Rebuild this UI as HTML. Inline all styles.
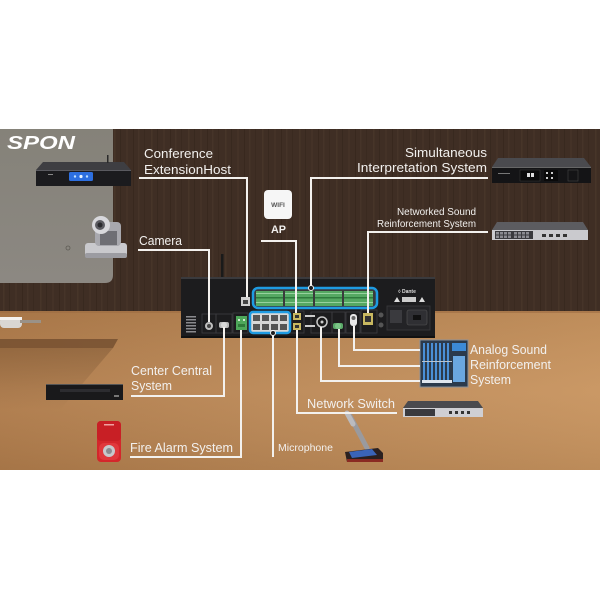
<!DOCTYPE html>
<html><head><meta charset="utf-8"><style>
html,body{margin:0;padding:0;background:#fff;}
svg{display:block;}
text{font-family:"Liberation Sans",sans-serif;fill:#f2f0ee;}
</style></head><body>
<svg width="600" height="600" viewBox="0 0 600 600" xmlns="http://www.w3.org/2000/svg">
<defs>
<pattern id="wood" width="37" height="200" patternUnits="userSpaceOnUse">
<rect x="3" width="1.5" height="200" fill="#5a4535" opacity="0.3"/>
<rect x="9" width="1" height="200" fill="#2c1f17" opacity="0.35"/>
<rect x="15" width="2" height="200" fill="#564131" opacity="0.22"/>
<rect x="22" width="1" height="200" fill="#2a1d15" opacity="0.35"/>
<rect x="27" width="1.5" height="200" fill="#5c4636" opacity="0.25"/>
<rect x="33" width="1" height="200" fill="#2e2118" opacity="0.3"/>
</pattern>
<linearGradient id="desk" x1="0" y1="0" x2="1" y2="0">
<stop offset="0" stop-color="#b07c4b"/>
<stop offset="0.45" stop-color="#bb8856"/>
<stop offset="1" stop-color="#c8945f"/>
</linearGradient>
<linearGradient id="deskV" x1="0" y1="0" x2="0" y2="1">
<stop offset="0" stop-color="#000" stop-opacity="0.05"/>
<stop offset="0.5" stop-color="#fff" stop-opacity="0.04"/>
<stop offset="1" stop-color="#000" stop-opacity="0.06"/>
</linearGradient>
<linearGradient id="panel" x1="0" y1="0" x2="0" y2="1">
<stop offset="0" stop-color="#858279"/>
<stop offset="1" stop-color="#8c8882"/>
</linearGradient>
<linearGradient id="shadowL" x1="0" y1="0" x2="0" y2="1">
<stop offset="0" stop-color="#5a3c22" stop-opacity="0.3"/>
<stop offset="1" stop-color="#5a3c22" stop-opacity="0"/>
</linearGradient>
</defs>

<!-- wall -->
<rect x="0" y="129" width="600" height="184" fill="#3f2e24"/>
<rect x="0" y="129" width="600" height="184" fill="url(#wood)"/>
<!-- gray panel -->
<path d="M0 129 H113 V275 Q113 283 105 283 H0 Z" fill="url(#panel)"/>
<!-- desk -->
<rect x="0" y="311" width="600" height="159" fill="url(#desk)"/>
<rect x="0" y="311" width="600" height="159" fill="url(#deskV)"/>
<rect x="0" y="311" width="600" height="2" fill="#9c6d42" opacity="0.6"/>
<!-- shelf shadow -->
<polygon points="0,339 118,339 113,348 0,348" fill="#6e4a2c" opacity="0.75"/>
<polygon points="0,348 113,348 60,410 0,410" fill="url(#shadowL)"/>
<!-- pipe -->
<rect x="0" y="317" width="22" height="11" rx="4" fill="#d9d6d2"/>
<rect x="0" y="317" width="22" height="3" fill="#f4f2ef"/>
<rect x="20" y="320" width="21" height="3" fill="#9a9288"/>

<!-- SPON logo -->
<text x="7" y="149" font-size="18" font-weight="bold" font-style="italic" textLength="68" lengthAdjust="spacingAndGlyphs" style="fill:#fff">SPON</text>

<!-- Conference host -->
<polygon points="43,162 124,162 131,170 36,170" fill="#3e3e42"/>
<rect x="36" y="170" width="95" height="16" fill="#1b1b1e"/>
<rect x="36" y="170" width="95" height="1" fill="#5a5a60"/>
<rect x="69" y="172" width="24" height="9" rx="1.5" fill="#2d6fe0"/>
<circle cx="75" cy="176.5" r="1.2" fill="#bfe0ff"/>
<circle cx="81" cy="176.5" r="1.6" fill="#e8f4ff"/>
<circle cx="87" cy="176.5" r="1.2" fill="#bfe0ff"/>
<rect x="107" y="155" width="1.5" height="8" fill="#2a2a2a"/>
<rect x="48" y="174" width="5" height="1" fill="#888"/>

<!-- Camera -->
<rect x="85" y="243" width="42" height="15" rx="3" fill="#c9c9cd"/>
<rect x="85" y="253" width="42" height="5" rx="2" fill="#9c9ca2"/>
<rect x="95" y="222" width="26" height="24" rx="4" fill="#a8a8ae"/>
<rect x="100" y="231" width="17" height="14" fill="#6e6e74"/>
<circle cx="101" cy="225" r="9" fill="#d8d8dc"/>
<circle cx="100" cy="225" r="5" fill="#5c5c62"/>
<circle cx="100" cy="225" r="2.5" fill="#2a2a2e"/>
<circle cx="68" cy="248" r="2" fill="none" stroke="#5e5b55" stroke-width="0.8"/>

<!-- WIFI AP -->
<rect x="264" y="190" width="28" height="29" rx="4" fill="#f6f6f6"/>
<text x="278" y="207" font-size="6.5" font-weight="bold" text-anchor="middle" style="fill:#555">WIFI</text>

<!-- Simultaneous Interpretation device -->
<polygon points="498,158 584,158 591,167 492,167" fill="#4a4a4e"/>
<rect x="492" y="167" width="99" height="16" fill="#141416"/>
<rect x="492" y="167" width="99" height="1" fill="#666"/>
<rect x="520" y="170" width="20" height="11" fill="#0a0a0a" stroke="#3a3a3a" stroke-width="0.5"/>
<rect x="527" y="173" width="3" height="4" fill="#ddd"/>
<rect x="531" y="173" width="3" height="4" fill="#ddd"/>
<rect x="544" y="170" width="14" height="11" fill="#0a0a0a"/>
<rect x="546" y="172" width="2" height="2" fill="#ccc"/><rect x="551" y="172" width="2" height="2" fill="#ccc"/>
<rect x="546" y="177" width="2" height="2" fill="#ccc"/><rect x="551" y="177" width="2" height="2" fill="#ccc"/>
<rect x="498" y="173" width="12" height="1" fill="#777"/>
<rect x="568" y="170" width="10" height="11" fill="none" stroke="#444" stroke-width="0.6"/>

<!-- Networked switch -->
<polygon points="497,222 583,222 588,230 492,230" fill="#5c5c60"/>
<rect x="492" y="230" width="96" height="10" fill="#cacace"/>
<rect x="495" y="231" width="38" height="8" fill="#3a3a3e"/>
<g fill="#8a8a90">
<rect x="496" y="232" width="3" height="2.5"/><rect x="500" y="232" width="3" height="2.5"/><rect x="504" y="232" width="3" height="2.5"/><rect x="508" y="232" width="3" height="2.5"/><rect x="514" y="232" width="3" height="2.5"/><rect x="518" y="232" width="3" height="2.5"/><rect x="522" y="232" width="3" height="2.5"/><rect x="526" y="232" width="3" height="2.5"/>
<rect x="496" y="235.5" width="3" height="2.5"/><rect x="500" y="235.5" width="3" height="2.5"/><rect x="504" y="235.5" width="3" height="2.5"/><rect x="508" y="235.5" width="3" height="2.5"/><rect x="514" y="235.5" width="3" height="2.5"/><rect x="518" y="235.5" width="3" height="2.5"/><rect x="522" y="235.5" width="3" height="2.5"/><rect x="526" y="235.5" width="3" height="2.5"/>
</g>
<g fill="#333"><rect x="542" y="234" width="4" height="3"/><rect x="549" y="234" width="4" height="3"/><rect x="556" y="234" width="4" height="3"/><rect x="563" y="234" width="4" height="3"/></g>

<!-- MAIN DEVICE -->
<rect x="221" y="254" width="2.5" height="24" fill="#1a1a1a"/>
<rect x="181" y="277" width="254" height="61" fill="#1c1c1e"/>
<rect x="181" y="277" width="254" height="2" fill="#3a3a3d"/>
<rect x="181" y="336" width="254" height="2" fill="#111"/>
<!-- left vent -->
<g fill="#8a8a8e">
<rect x="186" y="316" width="10" height="1.5"/><rect x="186" y="319" width="10" height="1.5"/><rect x="186" y="322" width="10" height="1.5"/><rect x="186" y="325" width="10" height="1.5"/><rect x="186" y="328" width="10" height="1.5"/><rect x="186" y="331" width="10" height="1.5"/>
</g>
<!-- bottom row module frames -->
<g fill="none" stroke="#3e3e42" stroke-width="0.8">
<rect x="202" y="314" width="14" height="19"/>
<rect x="216" y="314" width="16" height="19"/>
<rect x="233" y="313" width="15" height="20"/>
<rect x="290" y="311" width="14" height="22"/>
<rect x="311" y="312" width="21" height="21"/>
<rect x="332" y="312" width="13" height="21"/>
<rect x="346" y="312" width="14" height="21"/>
<rect x="361" y="310" width="16" height="23"/>
</g>
<circle cx="209" cy="326" r="4" fill="#bfbfbf"/><circle cx="209" cy="326" r="2" fill="#444"/>
<rect x="219" y="322" width="10" height="6" rx="2" fill="#b8b8b8"/><circle cx="224" cy="325" r="3" fill="#d8d8d8"/>
<rect x="236" y="316" width="11" height="14" fill="#4ea85a"/>
<rect x="238" y="319" width="2" height="2" fill="#cfe8cf"/><rect x="243" y="319" width="2" height="2" fill="#cfe8cf"/>
<rect x="238" y="324" width="7" height="3" fill="#2f7a3a"/>
<rect x="241" y="297" width="9" height="9" fill="#cfcfcf"/><rect x="243" y="300" width="5" height="4" fill="#444"/>
<rect x="250" y="312" width="40" height="21" rx="3" fill="#d8d8d8" stroke="#1e9be2" stroke-width="2.5"/>
<g fill="#555">
<rect x="253" y="315" width="7" height="6"/><rect x="262" y="315" width="7" height="6"/><rect x="271" y="315" width="7" height="6"/><rect x="280" y="315" width="7" height="6"/>
<rect x="253" y="324" width="7" height="6"/><rect x="262" y="324" width="7" height="6"/><rect x="271" y="324" width="7" height="6"/><rect x="280" y="324" width="7" height="6"/>
</g>
<rect x="293" y="313" width="8" height="7" fill="#c8b860"/><rect x="295" y="315" width="4" height="3" fill="#333"/>
<rect x="293" y="323" width="8" height="7" fill="#c8b860"/><rect x="295" y="325" width="4" height="3" fill="#333"/>
<rect x="305" y="315" width="10" height="2" fill="#ccc"/><rect x="305" y="325" width="10" height="2" fill="#ccc"/>
<circle cx="322" cy="322" r="5" fill="#1a1a1a" stroke="#c8c8c8" stroke-width="1.5"/><circle cx="322" cy="322" r="1.5" fill="#ccc"/>
<rect x="333" y="323" width="10" height="6" rx="2" fill="#5aa868"/><circle cx="338" cy="326" r="3" fill="#7ac486"/>
<rect x="350" y="314" width="7" height="12" rx="3" fill="#e8e8e8"/><circle cx="353.5" cy="318" r="2" fill="#666"/>
<rect x="363" y="313" width="10" height="12" fill="#c8b860"/><rect x="365" y="316" width="6" height="6" fill="#333"/>
<circle cx="381" cy="315" r="2.5" fill="#555"/><circle cx="381" cy="325" r="2.5" fill="#555"/>
<text x="407" y="293" font-size="5" text-anchor="middle" font-weight="bold" style="fill:#ddd">◊ Dante</text>
<polygon points="394,302 397,297 400,302" fill="#ddd"/>
<rect x="402" y="297" width="14" height="5" fill="#ccc"/>
<polygon points="419,302 422,297 425,302" fill="#ddd"/>
<rect x="387" y="306" width="43" height="24" fill="#232326" stroke="#3a3a3e" stroke-width="0.8"/>
<rect x="390" y="310" width="12" height="13" fill="#3a3a3e"/>
<rect x="407" y="310" width="20" height="15" rx="2" fill="#2f2f33" stroke="#555" stroke-width="0.6"/>
<rect x="413" y="315" width="8" height="5" fill="#111"/>
<rect x="253" y="288" width="124" height="20" rx="5" fill="#3a3a3c" stroke="#1e9be2" stroke-width="2.5"/>
<g fill="#55a862">
<rect x="256" y="291" width="27" height="15"/><rect x="285" y="291" width="28" height="15"/><rect x="315" y="291" width="27" height="15"/><rect x="344" y="291" width="29" height="15"/>
</g>
<g fill="#2e7a3c">
<rect x="256" y="297" width="27" height="1.5"/><rect x="285" y="297" width="28" height="1.5"/><rect x="315" y="297" width="27" height="1.5"/><rect x="344" y="297" width="29" height="1.5"/>
</g>
<g fill="#a8dcae" opacity="0.8">
<rect x="256" y="293" width="27" height="1"/><rect x="285" y="293" width="28" height="1"/><rect x="315" y="293" width="27" height="1"/><rect x="344" y="293" width="29" height="1"/>
<rect x="256" y="302" width="27" height="1"/><rect x="285" y="302" width="28" height="1"/><rect x="315" y="302" width="27" height="1"/><rect x="344" y="302" width="29" height="1"/>
</g>

<!-- Center central device -->
<rect x="46" y="384" width="77" height="16" fill="#19191b"/>
<rect x="46" y="384" width="77" height="1" fill="#555"/>
<rect x="60" y="389" width="50" height="3" fill="#2c2c30"/>
<rect x="114" y="395" width="5" height="2" fill="#777"/>

<!-- Fire alarm -->
<rect x="97" y="421" width="24" height="41" rx="4" fill="#d4262b"/>
<rect x="97" y="421" width="24" height="20" rx="4" fill="#c81f25"/>
<rect x="99" y="443" width="20" height="17" rx="5" fill="#e0383c"/>
<circle cx="109" cy="451" r="6" fill="#c7c9cc"/>
<circle cx="109" cy="451" r="3" fill="#8a8c90"/>
<rect x="104" y="424" width="10" height="1.5" fill="#f0a0a0"/>

<!-- Mixer -->
<rect x="420" y="340" width="48" height="47" fill="#2b3a4c"/>
<rect x="420" y="340" width="48" height="47" fill="none" stroke="#8a9099" stroke-width="1"/>
<g fill="#4a8fd6">
<rect x="423" y="343" width="2" height="38"/><rect x="427" y="343" width="2" height="38"/><rect x="431" y="343" width="2" height="38"/><rect x="435" y="343" width="2" height="38"/><rect x="439" y="343" width="2" height="38"/><rect x="443" y="343" width="2" height="38"/><rect x="447" y="343" width="2" height="38"/>
</g>
<rect x="452" y="343" width="14" height="8" fill="#3c8ad6"/>
<rect x="453" y="356" width="12" height="26" fill="#6aa7e0"/>
<rect x="422" y="380" width="30" height="3" fill="#dfe6ee"/>
<rect x="422" y="361" width="30" height="1" fill="#b8c4d0"/>

<!-- Network switch bottom -->
<polygon points="408,401 478,401 483,408 403,408" fill="#4a4a4e"/>
<rect x="403" y="408" width="80" height="9" fill="#cfcfd3"/>
<rect x="405" y="409" width="30" height="7" fill="#3a3a3e"/>
<g fill="#333"><rect x="449" y="411" width="3" height="3"/><rect x="455" y="411" width="3" height="3"/><rect x="461" y="411" width="3" height="3"/><rect x="467" y="411" width="3" height="3"/></g>

<!-- Microphone -->
<line x1="350" y1="416" x2="367" y2="448" stroke="#9a9a9e" stroke-width="5" stroke-linecap="round"/>
<line x1="347" y1="413" x2="353" y2="424" stroke="#bbbbbf" stroke-width="5" stroke-linecap="round"/>
<polygon points="345,452 378,448 383,453 383,462 347,462" fill="#2a2020"/>
<polygon points="349,452 372,449 377,455 352,458" fill="#3a64b8"/>
<rect x="347" y="459" width="36" height="3" fill="#8a2a22"/>

<!-- CONNECTORS -->
<g fill="none" stroke="#f3f1ee" stroke-width="2">
<polyline points="139,178 247,178 247,297"/>
<polyline points="138,250 209,250 209,322"/>
<polyline points="261,241 296,241 296,313"/>
<polyline points="488,178 311,178 311,288"/>
<polyline points="488,232 368,232 368,313"/>
<polyline points="131,396 224,396 224,327"/>
<polyline points="130,457 241,457 241,330"/>
<polyline points="273,457 273,333"/>
<polyline points="397,413 297,413 297,330"/>
<polyline points="420,350 354,350 354,326"/>
<polyline points="420,366 339,366 339,329"/>
<polyline points="420,381 321,381 321,327"/>
</g>
<circle cx="311" cy="288" r="2.5" fill="#1c1c1e" stroke="#f3f1ee" stroke-width="1"/>
<circle cx="273" cy="333" r="2.5" fill="#1c1c1e" stroke="#f3f1ee" stroke-width="1"/>

<!-- LABELS -->
<text x="144" y="158" font-size="13" textLength="69" lengthAdjust="spacingAndGlyphs">Conference</text>
<text x="144" y="174" font-size="13" textLength="87" lengthAdjust="spacingAndGlyphs">ExtensionHost</text>
<text x="139" y="245" font-size="13" textLength="43" lengthAdjust="spacingAndGlyphs">Camera</text>
<text x="271" y="233" font-size="11" font-weight="bold" textLength="15" lengthAdjust="spacingAndGlyphs">AP</text>
<text x="405" y="157" font-size="13" textLength="82" lengthAdjust="spacingAndGlyphs">Simultaneous</text>
<text x="357" y="172" font-size="13" textLength="130" lengthAdjust="spacingAndGlyphs">Interpretation System</text>
<text x="397" y="215" font-size="10" textLength="79" lengthAdjust="spacingAndGlyphs">Networked Sound</text>
<text x="377" y="227" font-size="10" textLength="99" lengthAdjust="spacingAndGlyphs">Reinforcement System</text>
<text x="131" y="375" font-size="13" textLength="81" lengthAdjust="spacingAndGlyphs">Center Central</text>
<text x="131" y="390" font-size="13" textLength="41" lengthAdjust="spacingAndGlyphs">System</text>
<text x="130" y="452" font-size="13" textLength="103" lengthAdjust="spacingAndGlyphs">Fire Alarm System</text>
<text x="278" y="451" font-size="10" textLength="55" lengthAdjust="spacingAndGlyphs">Microphone</text>
<text x="307" y="408" font-size="12.5" textLength="88" lengthAdjust="spacingAndGlyphs">Network Switch</text>
<text x="470" y="354" font-size="13" textLength="77" lengthAdjust="spacingAndGlyphs">Analog Sound</text>
<text x="470" y="369" font-size="13" textLength="81" lengthAdjust="spacingAndGlyphs">Reinforcement</text>
<text x="470" y="384" font-size="13" textLength="41" lengthAdjust="spacingAndGlyphs">System</text>
</svg>
</body></html>
